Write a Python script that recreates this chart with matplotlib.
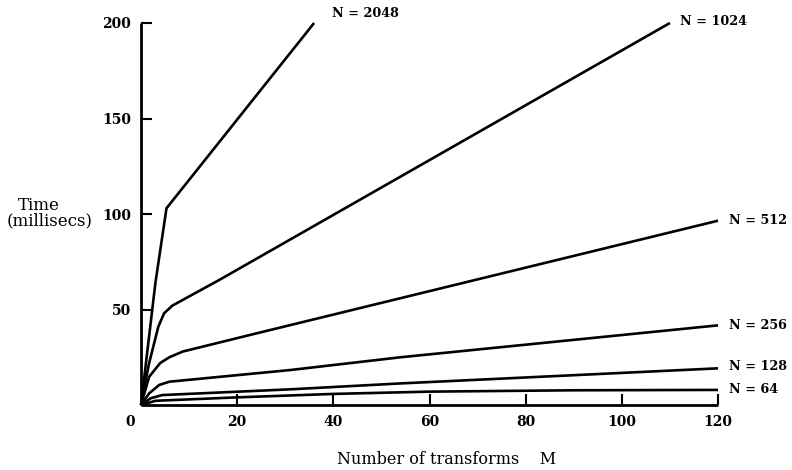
import matplotlib
matplotlib.use("Agg")
import matplotlib.pyplot as plt

plt.rcParams['font.family'] = ['DejaVu Serif']

labels = ["N = 2048", "N = 1024", "N = 512", "N = 256", "N = 128", "N = 64"]
x2048 = [0, 3, 5.3, 36]
y2048 = [0, 64, 103, 200]
x1024 = [0, 0.7, 1.7, 3.6, 4.8, 6.5, 16.3, 110]
y1024 = [0, 9.6, 22, 41, 48, 52, 65.5, 200]
x512 = [0, 1.7, 4, 5.9, 8.7, 24, 120]
y512 = [0, 14.8, 22, 25, 28, 37.5, 96.5]
x256 = [0, 1.7, 3.8, 5.9, 31, 54, 120]
y256 = [0, 6.1, 10.5, 12.2, 18.3, 25, 41.7]
x128 = [0, 2, 4.4, 31, 54, 120]
y128 = [0, 3.5, 5.2, 8.2, 11.3, 19.2]
x64 = [0, 3, 20, 40, 60, 90, 120]
y64 = [0, 2.2, 4, 5.8, 7, 7.7, 7.9]

xticks = [20, 40, 60, 80, 100, 120]
yticks = [50, 100, 150, 200]

series = [(x2048, y2048), (x1024, y1024), (x512, y512),
          (x256, y256), (x128, y128), (x64, y64)]
label_offsets = [(13, 7), (7, 1), (8, 0), (8, 0), (8, 1), (8, 0)]

fig = plt.figure(figsize=(7.92, 4.70), dpi=100)
ax = fig.add_axes([141/792, 1-405/470, (718-141)/792, (405-23)/470])
ax.set_xlim(0, 120)
ax.set_ylim(0, 200)

for (xs, ys), lab, off in zip(series, labels, label_offsets):
    ax.plot(xs, ys, color='black', lw=1.9, solid_joinstyle='round',
            solid_capstyle='butt', clip_on=False)
    ax.annotate(lab, xy=(xs[-1], ys[-1]), xytext=off, textcoords='offset points',
                ha='left', va='center', fontsize=9.2, fontweight='bold',
                annotation_clip=False)

for s in ['top', 'right']:
    ax.spines[s].set_visible(False)
for s in ['left', 'bottom']:
    ax.spines[s].set_linewidth(2.0)
    ax.spines[s].set_capstyle('butt')

ax.set_xticks(xticks)
ax.set_yticks(yticks)
ax.tick_params(direction='in', length=8, width=1.5, labelsize=10, pad=7)
for t in ax.get_xticklabels() + ax.get_yticklabels():
    t.set_fontweight('bold')

ax.annotate("0", xy=(0, 0), xytext=(-8, -12), textcoords='offset points',
            ha='center', va='center', fontsize=10, fontweight='bold',
            annotation_clip=False)

fig.text(447/792, 1-460/470, "Number of transforms    M", ha='center', va='center',
         fontsize=11.5)
fig.text(18/792, 1-205/470, "Time", ha='left', va='center', fontsize=12)
fig.text(7/792, 1-221/470, "(millisecs)", ha='left', va='center', fontsize=12)

fig.savefig("out.png", dpi=100)
